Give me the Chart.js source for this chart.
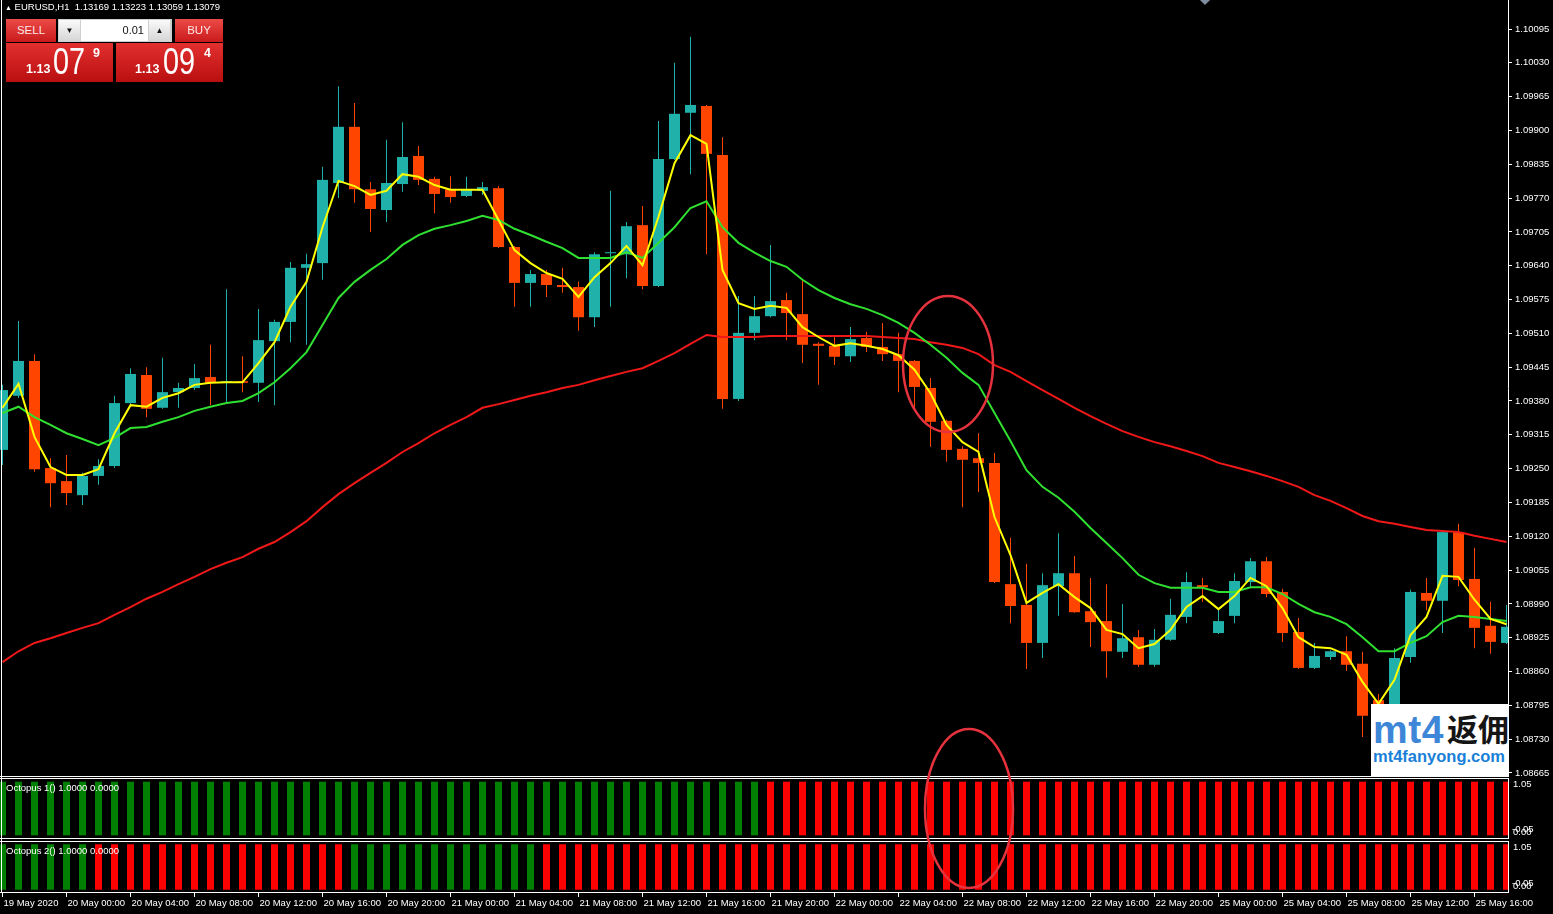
<!DOCTYPE html>
<html lang="en">
<head>
<meta charset="utf-8">
<title>EURUSD,H1</title>
<script src="https://cdn.jsdelivr.net/npm/chart.js@4.4.1/dist/chart.umd.min.js"></script>
<style>
  html, body { margin: 0; padding: 0; background: #000; }
  body { position: relative; width: 1553px; height: 914px; overflow: hidden;
         font-family: "Liberation Sans", Arial, sans-serif; color: #fff; }
  .pane { position: absolute; left: 0; width: 1553px; }
  .rule { position: absolute; background: #fff; }
  .ind-label { position: absolute; left: 6px; font-size: 9.5px; line-height: 10px; white-space: pre; }
  #header { position: absolute; left: 5px; top: 2px; font-size: 9.5px; line-height: 10px; white-space: pre; }
  #header .tri { font-size: 7px; }
  .btn { position: absolute; top: 19px; height: 23px; background: linear-gradient(#ec4b47, #c91a1c);
         color: #fbe6e6; font-size: 11.5px; line-height: 23px; text-align: center; }
  .lot { position: absolute; left: 58px; top: 19px; width: 114px; height: 23px; background: #cfcfcf; }
  .lot .arr { position: absolute; top: 1px; width: 21px; height: 21px; background: linear-gradient(#fafafa, #d6d6d6);
              color: #111; font-size: 8px; line-height: 21px; text-align: center; }
  .lot .field { position: absolute; left: 23px; top: 1px; width: 63px; height: 21px; background: #fff; color: #111;
                font-size: 11px; line-height: 21px; text-align: right; padding-right: 4px; }
  .quote { position: absolute; top: 43px; width: 107px; height: 39px; background: linear-gradient(#e3302f, #b90f10); }
  .quote span { position: absolute; line-height: 1; white-space: nowrap; color: #fff; }
  .q-small { font-size: 12.5px; font-weight: bold; top: 20.4px; }
  .q-big { font-size: 36px; top: 0.5px; transform-origin: left top; transform: scaleX(0.8); }
  .q-sup { font-size: 12.5px; font-weight: bold; top: 4.4px; }
  #wm { position: absolute; left: 1371px; top: 704px; width: 137px; height: 72px; background: #fff; overflow: hidden; }
  #wm span, #wm div { position: absolute; line-height: 1; white-space: nowrap; }
  #wm .mt4 { left: 2px; top: 6px; font-size: 39px; font-weight: bold; color: #3d86d8; letter-spacing: 0.5px; }
  #wm .cn { left: 76px; top: 8px; font-size: 31px; font-weight: bold; color: #151515; font-family: "Noto Sans CJK SC", sans-serif; }
  #wm .url { left: 2px; top: 44px; font-size: 16.5px; font-weight: bold; color: #1a7fd8; }
</style>
</head>
<body>
<div class="pane" style="top:0;height:776px"><canvas id="mainChart"></canvas></div>
<div class="pane" style="top:779px;height:59px"><canvas id="octo1Chart"></canvas></div>
<div class="pane" style="top:842px;height:72px"><canvas id="octo2Chart"></canvas></div>

<div class="rule" style="left:1px;top:0;width:1px;height:893px"></div>
<div class="rule" style="left:0;top:776px;width:1509px;height:1px"></div>
<div class="rule" style="left:0;top:778px;width:1509px;height:1px"></div>
<div class="rule" style="left:0;top:838px;width:1509px;height:1px"></div>
<div class="rule" style="left:0;top:841px;width:1509px;height:1px"></div>

<div class="ind-label" style="top:782.6px">Octopus 1() 1.0000 0.0000</div>
<div class="ind-label" style="top:845.6px">Octopus 2() 1.0000 0.0000</div>

<div id="header"><span class="tri">▲</span> EURUSD,H1  1.13169 1.13223 1.13059 1.13079</div>

<div class="btn" style="left:6px;width:50px">SELL</div>
<div class="lot">
  <div class="arr" style="left:1px">▼</div>
  <div class="field">0.01</div>
  <div class="arr" style="left:91px">▲</div>
</div>
<div class="btn" style="left:175px;width:48px">BUY</div>
<div class="quote" style="left:6px">
  <span class="q-small" style="left:20px">1.13</span>
  <span class="q-big" style="left:47px">07</span>
  <span class="q-sup" style="left:87px">9</span>
</div>
<div class="quote" style="left:116px">
  <span class="q-small" style="left:19px">1.13</span>
  <span class="q-big" style="left:47px">09</span>
  <span class="q-sup" style="left:88px">4</span>
</div>

<div style="position:absolute;left:1200px;top:-7px;width:10px;height:10px;background:#7f8da0;transform:rotate(45deg)"></div>

<div id="wm">
  <span class="mt4">mt4</span>
  <span class="cn">返佣</span>
  <div class="url">mt4fanyong.com</div>
</div>

<svg width="1553" height="914" style="position:absolute;left:0;top:0;pointer-events:none">
  <ellipse cx="948" cy="364" rx="45" ry="68" fill="none" stroke="#e5323d" stroke-width="2.5"/>
  <ellipse cx="969" cy="808.5" rx="44" ry="79.5" fill="none" stroke="#e5323d" stroke-width="2.5"/>
</svg>

<script>
// EURUSD H1, 19 May 2020 20:00 .. 25 May 2020 18:00 (95 bars)
const barOpen = [
  1.09286,1.09390,1.09457,1.09251,1.09226,1.09199,1.09236,1.09255,1.09376,1.09430,
  1.09367,1.09397,1.09405,1.09426,1.09415,1.09418,1.09415,1.09495,1.09532,1.09636,
  1.09645,1.09799,1.09907,1.09787,1.09747,1.09797,1.09851,1.09807,1.09787,1.09774,
  1.09784,1.09789,1.09676,1.09607,1.09624,1.09603,1.09599,1.09541,1.09664,1.09662,
  1.09718,1.09601,1.09845,1.09934,1.09947,1.09853,1.09384,1.09511,1.09543,1.09574,
  1.09547,1.09490,1.09486,1.09466,1.09501,1.09484,1.09470,1.09457,1.09405,1.09342,
  1.09288,1.09270,1.09261,1.09028,1.08988,1.08915,1.09024,1.09049,1.08976,1.08957,
  1.08898,1.08926,1.08873,1.08921,1.08965,1.09026,1.08934,1.08967,1.09032,1.09072,
  1.09013,1.08936,1.08867,1.08888,1.08899,1.08875,1.08805,1.08794,1.08888,1.09011,
  1.08996,1.09128,1.09038,1.08948,1.08915];
const barHigh = [
  1.09411,1.09534,1.09470,1.09270,1.09276,1.09242,1.09268,1.09390,1.09443,1.09445,
  1.09463,1.09415,1.09451,1.09488,1.09595,1.09466,1.09557,1.09536,1.09647,1.09663,
  1.09830,1.09985,1.09953,1.09801,1.09882,1.09916,1.09870,1.09811,1.09812,1.09811,
  1.09801,1.09793,1.09678,1.09632,1.09632,1.09636,1.09609,1.09666,1.09784,1.09724,
  1.09755,1.09918,1.10030,1.10080,1.09949,1.09887,1.09582,1.09582,1.09680,1.09588,
  1.09613,1.09493,1.09503,1.09522,1.09513,1.09530,1.09511,1.09459,1.09424,1.09344,
  1.09293,1.09318,1.09280,1.09117,1.09067,1.09049,1.09126,1.09082,1.09040,1.09028,
  1.08990,1.08940,1.08942,1.09000,1.09051,1.09040,1.08982,1.09049,1.09078,1.09080,
  1.09019,1.08963,1.08915,1.08901,1.08928,1.08898,1.08817,1.08905,1.09017,1.09040,
  1.09132,1.09144,1.09098,1.08994,1.08988];
const barLow = [
  1.09257,1.09386,1.09244,1.09176,1.09180,1.09180,1.09219,1.09251,1.09374,1.09349,
  1.09365,1.09367,1.09401,1.09372,1.09376,1.09397,1.09378,1.09372,1.09493,1.09488,
  1.09613,1.09770,1.09761,1.09705,1.09724,1.09782,1.09795,1.09741,1.09761,1.09772,
  1.09776,1.09674,1.09561,1.09561,1.09580,1.09588,1.09515,1.09522,1.09561,1.09616,
  1.09595,1.09599,1.09843,1.09816,1.09662,1.09365,1.09380,1.09497,1.09541,1.09497,
  1.09453,1.09411,1.09449,1.09455,1.09474,1.09457,1.09397,1.09367,1.09292,1.09263,
  1.09176,1.09205,1.09030,1.08953,1.08865,1.08886,1.08967,1.08973,1.08907,1.08848,
  1.08886,1.08869,1.08869,1.08919,1.08953,1.08994,1.08932,1.08953,1.09021,1.09003,
  1.08917,1.08865,1.08865,1.08882,1.08861,1.08734,1.08767,1.08782,1.08877,1.08978,
  1.08934,1.09024,1.08905,1.08894,1.08913];
const barClose = [
  1.09401,1.09457,1.09249,1.09222,1.09203,1.09236,1.09255,1.09376,1.09432,1.09365,
  1.09397,1.09405,1.09424,1.09415,1.09418,1.09415,1.09497,1.09532,1.09636,1.09643,
  1.09805,1.09907,1.09787,1.09749,1.09799,1.09849,1.09805,1.09778,1.09772,1.09787,
  1.09791,1.09676,1.09607,1.09624,1.09603,1.09599,1.09541,1.09662,1.09666,1.09716,
  1.09601,1.09845,1.09932,1.09949,1.09855,1.09384,1.09511,1.09543,1.09572,1.09549,
  1.09488,1.09486,1.09465,1.09499,1.09484,1.09470,1.09457,1.09407,1.09340,1.09286,
  1.09267,1.09261,1.09032,1.08986,1.08915,1.09026,1.09049,1.08974,1.08955,1.08899,
  1.08924,1.08873,1.08921,1.08969,1.09032,1.09022,1.08957,1.09034,1.09072,1.09009,
  1.08934,1.08867,1.08890,1.08899,1.08873,1.08775,1.08782,1.08886,1.09013,1.08996,
  1.09128,1.09036,1.08944,1.08917,1.08946];

// moving averages (yellow fast, green mid, red slow)
const maFast = [
  1.09367,1.09413,1.09311,1.09253,1.09238,1.09238,1.09249,1.09318,1.09372,1.09369,
  1.09386,1.09395,1.09411,1.09415,1.09416,1.09416,1.09453,1.09493,1.09561,1.09609,
  1.09714,1.09803,1.09793,1.09776,1.09784,1.09816,1.09811,1.09795,1.09786,1.09786,
  1.09786,1.09728,1.09670,1.09645,1.09626,1.09615,1.09580,1.09618,1.09645,1.09678,
  1.09641,1.09734,1.09837,1.09891,1.09874,1.09632,1.09568,1.09557,1.09563,1.09559,
  1.09522,1.09503,1.09486,1.09491,1.09486,1.09480,1.09468,1.09440,1.09395,1.09334,
  1.09301,1.09282,1.09157,1.09084,1.08992,1.09011,1.09028,1.09003,1.08982,1.08940,
  1.08932,1.08905,1.08913,1.08940,1.08984,1.09005,1.08980,1.09005,1.09040,1.09024,
  1.08982,1.08926,1.08907,1.08905,1.08892,1.08840,1.08798,1.08844,1.08930,1.08965,
  1.09044,1.09042,1.08998,1.08961,1.08951];
const maMid = [
  1.09357,1.09369,1.09349,1.09334,1.09318,1.09307,1.09295,1.09309,1.09328,1.09330,
  1.09340,1.09349,1.09361,1.09369,1.09376,1.09380,1.09395,1.09416,1.09443,1.09474,
  1.09526,1.09578,1.09609,1.09632,1.09653,1.09680,1.09699,1.09711,1.09718,1.09726,
  1.09736,1.09728,1.09711,1.09699,1.09686,1.09674,1.09655,1.09655,1.09655,1.09666,
  1.09655,1.09684,1.09714,1.09751,1.09764,1.09714,1.09684,1.09665,1.09649,1.09638,
  1.09613,1.09593,1.09578,1.09566,1.09557,1.09545,1.09530,1.09511,1.09488,1.09463,
  1.09434,1.09411,1.09357,1.09303,1.09247,1.09215,1.09194,1.09167,1.09136,1.09107,
  1.09078,1.09046,1.09030,1.09021,1.09021,1.09021,1.09013,1.09013,1.09022,1.09022,
  1.09009,1.08990,1.08974,1.08965,1.08951,1.08926,1.08899,1.08899,1.08915,1.08928,
  1.08955,1.08967,1.08965,1.08961,1.08957];
const maSlow = [
  1.08878,1.08899,1.08915,1.08924,1.08934,1.08944,1.08953,1.08969,1.08984,1.09000,
  1.09013,1.09028,1.09042,1.09057,1.09069,1.09080,1.09096,1.09109,1.09128,1.09149,
  1.09176,1.09201,1.09222,1.09242,1.09261,1.09282,1.09299,1.09318,1.09334,1.09349,
  1.09367,1.09374,1.09382,1.09390,1.09397,1.09405,1.09411,1.09420,1.09428,1.09436,
  1.09443,1.09457,1.09472,1.09490,1.09507,1.09503,1.09503,1.09503,1.09505,1.09505,
  1.09505,1.09505,1.09505,1.09505,1.09505,1.09503,1.09501,1.09499,1.09493,1.09488,
  1.09482,1.09470,1.09449,1.09436,1.09418,1.09401,1.09384,1.09367,1.09351,1.09336,
  1.09322,1.09311,1.09301,1.09293,1.09284,1.09274,1.09261,1.09253,1.09245,1.09236,
  1.09226,1.09215,1.09199,1.09188,1.09174,1.09159,1.09149,1.09144,1.09138,1.09132,
  1.09130,1.09128,1.09121,1.09115,1.09109];

// Octopus indicator state per bar: G = green buffer, R = red buffer
const octo1State = ('GGGGGGGGGG GGGGGGGGGG GGGGGGGGGG GGGGGGGGGG GGGGGGGGRR ' +
                    'RRRRRRRRRR RRRRRRRRRR RRRRRRRRRR RRRRRRRRRR RRRRR').replace(/ /g, '');
const octo2State = ('GGGGGGRRRR RRRRRRRRRR RRGGGGGGGG GGGGRRRRRR RRRRRRRRRR ' +
                    'RRRRRRRRRR RRRRRRRRRR RRRRRRRRRR RRRRRRRRRR RRRRR').replace(/ /g, '');

const priceTicks = [1.10095, 1.10030, 1.09965, 1.09900, 1.09835, 1.09770, 1.09705, 1.09640,
  1.09575, 1.09510, 1.09445, 1.09380, 1.09315, 1.09250, 1.09185, 1.09120, 1.09055, 1.08990,
  1.08925, 1.08860, 1.08795, 1.08730, 1.08665];

const timeLabels = ['19 May 2020', '20 May 00:00', '20 May 04:00', '20 May 08:00', '20 May 12:00',
  '20 May 16:00', '20 May 20:00', '21 May 00:00', '21 May 04:00', '21 May 08:00', '21 May 12:00',
  '21 May 16:00', '21 May 20:00', '22 May 00:00', '22 May 04:00', '22 May 08:00', '22 May 12:00',
  '22 May 16:00', '22 May 20:00', '25 May 00:00', '25 May 04:00', '25 May 08:00', '25 May 12:00',
  '25 May 16:00'];
const tickEvery = 4;

const octoLevels = ['1.05', '0.00', '-0.05'];

// view window
const yMin = 1.0865923, yMax = 1.1015074;
const xMin = -0.15625, xMax = 94.09375;
const octoMin = -0.05, octoMax = 1.05;

const TEAL = '#20b2aa', ORANGE = '#ff4500';
const font9 = { family: '"Liberation Sans", Arial, sans-serif', size: 9.5 };

const candleColor = barOpen.map((o, i) => barClose[i] >= o ? TEAL : ORANGE);
const pts = arr => arr.map((v, i) => ({ x: i, y: v }));

const baseOpts = {
  responsive: true,
  maintainAspectRatio: false,
  animation: false,
  events: [],
  layout: { padding: 0 },
  plugins: { legend: { display: false }, tooltip: { enabled: false } }
};

const hiddenX = { type: 'linear', min: xMin, max: xMax, bounds: 'data', offset: false, display: false };

// keep the plot area flush with the canvas edges
function fitRightAxis(s) {
  s.width = 45;
  s.paddingTop = 0;
  s.paddingBottom = 0;
}

new Chart(document.getElementById('mainChart'), {
  type: 'bar',
  data: {
    datasets: [
      { type: 'line', data: pts(maFast), borderColor: '#ffff00', borderWidth: 2, pointRadius: 0, tension: 0, order: 0 },
      { type: 'line', data: pts(maMid), borderColor: '#30e030', borderWidth: 2, pointRadius: 0, tension: 0, order: 1 },
      { type: 'line', data: pts(maSlow), borderColor: '#f01818', borderWidth: 2, pointRadius: 0, tension: 0, order: 2 },
      { data: barOpen.map((o, i) => ({ x: i, y: [o, barClose[i]] })), backgroundColor: candleColor,
        barThickness: 11, minBarLength: 1, grouped: false, inflateAmount: 0, order: 3 },
      { data: barLow.map((l, i) => ({ x: i, y: [l, barHigh[i]] })), backgroundColor: candleColor,
        barThickness: 1, grouped: false, inflateAmount: 0, order: 4 }
    ]
  },
  options: {
    ...baseOpts,
    scales: {
      x: hiddenX,
      y: {
        position: 'right', min: yMin, max: yMax, bounds: 'data',
        afterBuildTicks: s => { s.ticks = priceTicks.map(v => ({ value: v })); },
        afterFit: fitRightAxis,
        ticks: { color: '#fff', font: font9, padding: 3, autoSkip: false, callback: v => v.toFixed(5) },
        grid: { drawOnChartArea: false, drawTicks: true, tickLength: 4, color: '#fff' },
        border: { display: true, color: '#fff', width: 1 }
      }
    }
  }
});

// max / min / zero labels on the indicator windows
const octoScaleLabels = {
  id: 'octoScaleLabels',
  afterDraw(chart) {
    const s = chart.scales.y, ctx = chart.ctx;
    ctx.save();
    ctx.font = '9.5px "Liberation Sans", Arial, sans-serif';
    ctx.fillStyle = '#fff';
    ctx.textAlign = 'left';
    ctx.textBaseline = 'top';
    ctx.fillText(octoLevels[0], s.left + 5, s.getPixelForValue(octoMax) + 1);
    ctx.textBaseline = 'bottom';
    ctx.fillText(octoLevels[2], s.left + 4, s.getPixelForValue(octoMin) - 4);
    ctx.fillText(octoLevels[1], s.left + 5, s.getPixelForValue(octoMin) - 1);
    ctx.restore();
  }
};

function octoChart(id, state, withTime) {
  const up = [...state].map((c, i) => ({ x: i, y: c === 'G' ? 1 : null }));
  const dn = [...state].map((c, i) => ({ x: i, y: c === 'R' ? 1 : null }));
  const x = withTime ? {
    type: 'linear', min: xMin, max: xMax, bounds: 'data', offset: false, position: 'bottom',
    afterBuildTicks: s => { s.ticks = timeLabels.map((_, k) => ({ value: k * tickEvery })); },
    afterFit: s => { s.height = 22; s.paddingLeft = 0; s.paddingRight = 0; },
    ticks: { color: '#fff', font: font9, autoSkip: false, maxRotation: 0, minRotation: 0,
             align: 'start', labelOffset: 1, padding: 1, callback: (v, k) => timeLabels[k] },
    grid: { drawOnChartArea: false, drawTicks: true, tickLength: 5, color: '#fff', offset: false },
    border: { display: true, color: '#fff', width: 1 }
  } : hiddenX;
  return new Chart(document.getElementById(id), {
    type: 'bar',
    data: {
      datasets: [
        { data: up, backgroundColor: '#008000', barThickness: 7, grouped: false, inflateAmount: 0 },
        { data: dn, backgroundColor: '#ff0000', barThickness: 7, grouped: false, inflateAmount: 0 }
      ]
    },
    options: {
      ...baseOpts,
      scales: {
        x,
        y: {
          position: 'right', min: octoMin, max: octoMax, bounds: 'data',
          afterFit: fitRightAxis,
          ticks: { display: false },
          grid: { display: false },
          border: { display: true, color: '#fff', width: 1 }
        }
      }
    },
    plugins: [octoScaleLabels]
  });
}

octoChart('octo1Chart', octo1State, false);
octoChart('octo2Chart', octo2State, true);
</script>
</body>
</html>
